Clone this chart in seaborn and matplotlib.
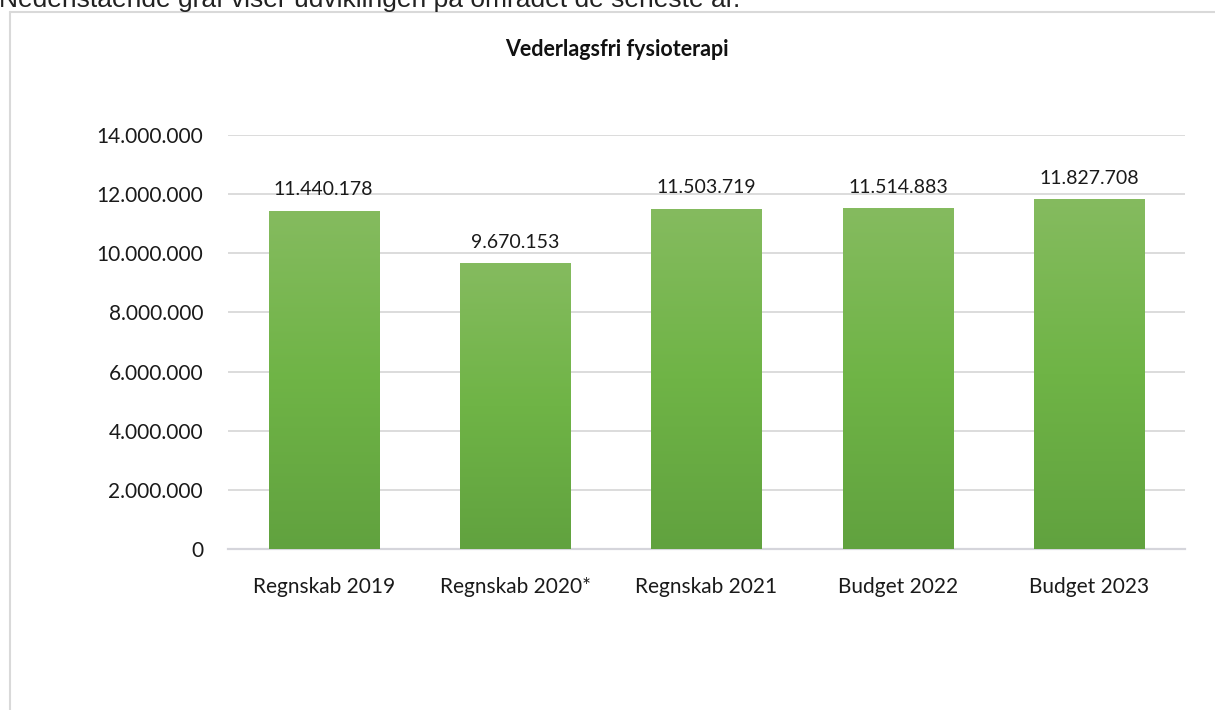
import matplotlib
matplotlib.use("Agg")
import matplotlib.pyplot as plt
import seaborn as sns
import numpy as np
from matplotlib.colors import LinearSegmentedColormap
from matplotlib.lines import Line2D

# Data
categories = ["Regnskab 2019", "Regnskab 2020*", "Regnskab 2021", "Budget 2022", "Budget 2023"]
values = [11440178, 9670153, 11503719, 11514883, 11827708]
y_ticks = [0, 2000000, 4000000, 6000000, 8000000, 10000000, 12000000, 14000000]

title = "Vederlagsfri fysioterapi"
intro = "Nedenstående graf viser udviklingen på området de seneste år."

sns.set_style("white")
plt.rcParams["font.family"] = ["Lato", "DejaVu Sans"]


def fmt(v):
    return f"{v:,.0f}".replace(",", ".")


W, H = 1215, 710
fig = plt.figure(figsize=(W / 100, H / 100), dpi=100)
ax = fig.add_axes([228 / W, 1 - 549 / H, (1185 - 228) / W, (549 - 135) / H])

sns.barplot(x=categories, y=values, color="#70AD47", width=0.575, ax=ax,
            saturation=1, zorder=2)

# Gradient fill (light at top, darker at bottom), clipped to each bar
grad_cmap = LinearSegmentedColormap.from_list("g", ["#61A23F", "#6FB446", "#85BB5F"])
grad = np.linspace(0, 1, 256).reshape(-1, 1)
for p in ax.patches:
    x0, w, h = p.get_x(), p.get_width(), p.get_height()
    im = ax.imshow(grad, extent=[x0, x0 + w, 0, h], origin="lower", aspect="auto",
                   cmap=grad_cmap, zorder=2)
    im.set_clip_path(p)
    p.set_facecolor("none")
    p.set_edgecolor("none")

# Value labels
for i, v in enumerate(values):
    ax.annotate(fmt(v), (i, v), xytext=(0, 9), textcoords="offset points",
                ha="center", va="bottom", fontsize=14, color="#1a1a1a")

ax.set_xlim(-0.5, len(categories) - 0.5)
ax.set_ylim(0, 14000000)
ax.set_yticks(y_ticks)
ax.set_yticklabels([fmt(t) for t in y_ticks])
ax.yaxis.grid(True, color="#D9D9D9", linewidth=1.3, zorder=0)
ax.set_axisbelow(True)
for s in ["top", "right", "left"]:
    ax.spines[s].set_visible(False)
ax.spines["bottom"].set_color("#D5D5DB")
ax.spines["bottom"].set_linewidth(1.6)
ax.spines["bottom"].set_zorder(1)
ax.tick_params(axis="both", length=0, labelsize=15, colors="#1a1a1a")
ax.tick_params(axis="y", pad=18)
ax.tick_params(axis="x", pad=20)
ax.set_xlabel("")
ax.set_ylabel("")

# Chart title and clipped intro line above the frame
fig.text(617 / W, 1 - 50 / H, title, ha="center", va="center",
         fontsize=15.5, fontweight="bold", color="#111111")
fig.text(-1 / W, 1 - 7 / H, intro, ha="left", va="baseline",
         fontsize=19, color="#222222", family=["Liberation Sans", "DejaVu Sans"])

# Chart area border (top and left edge visible)
fig.add_artist(Line2D([9.5 / W, 1.0], [1 - 12 / H, 1 - 12 / H], color="#D9D9D9", lw=1.5))
fig.add_artist(Line2D([9.5 / W, 9.5 / W], [0, 1 - 12 / H], color="#D9D9D9", lw=1.5))

fig.savefig("out.png", dpi=100)
